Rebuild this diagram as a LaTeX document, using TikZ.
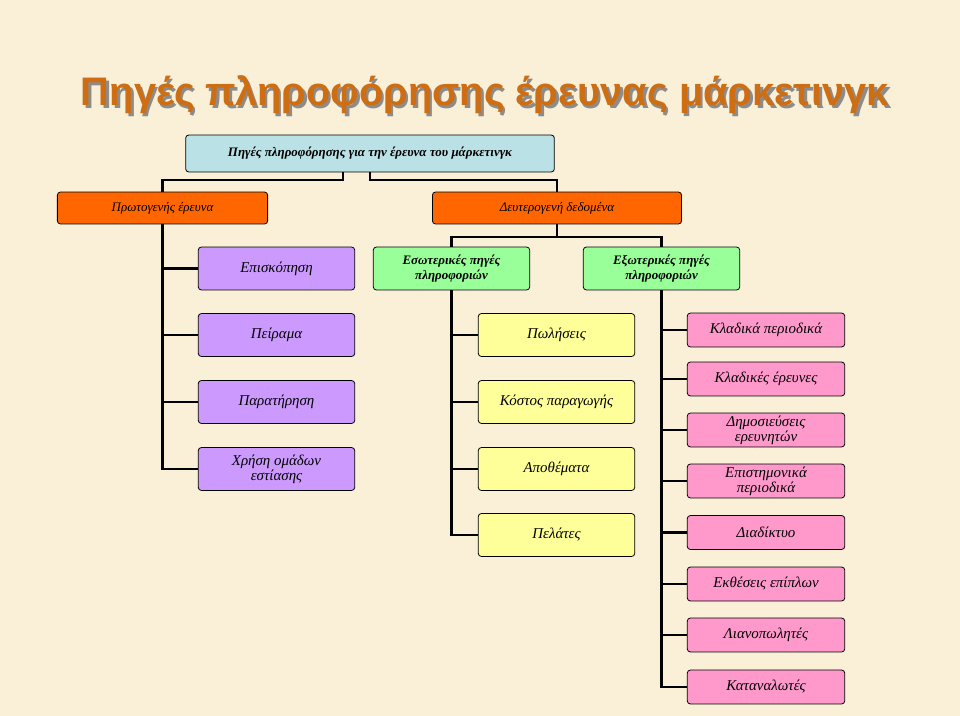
\documentclass[tikz,border=0pt]{standalone}
\usepackage{fontspec}
\setmainfont{Liberation Serif}
\newfontfamily\titlefont{Liberation Sans}
\definecolor{bgcream}{RGB}{250,240,215}
\definecolor{topblue}{RGB}{185,225,230}
\definecolor{orangebox}{RGB}{255,102,0}
\definecolor{purplebox}{RGB}{204,153,255}
\definecolor{greenbox}{RGB}{153,255,153}
\definecolor{yellowbox}{RGB}{255,255,153}
\definecolor{pinkbox}{RGB}{255,153,204}
\definecolor{titlebrown}{RGB}{205,110,20}
\tikzset{
  box/.style={draw,thick,rounded corners=3pt,align=center,inner sep=1pt,
    font=\itshape\fontsize{15}{15}\selectfont},
  smallbox/.style={box,font=\itshape\fontsize{13}{13}\selectfont},
  link/.style={line width=2.2pt}
}
\begin{document}
\begin{tikzpicture}[x=1bp,y=-1bp]
        \fill[bgcream] (0,0) rectangle (960,716);
        \useasboundingbox (0,0) rectangle (960,716);

        \node[text=black!45,font=\titlefont\bfseries\fontsize{40}{40}\selectfont] at (487.5,97.5) {Πηγές πληροφόρησης έρευνας μάρκετινγκ};
        \node[text=titlebrown,font=\titlefont\bfseries\fontsize{40}{40}\selectfont] (title) at (485,95) {Πηγές πληροφόρησης έρευνας μάρκετινγκ};

        \node[smallbox,fill=topblue,minimum width=370,minimum height=37,font=\bfseries\itshape\fontsize{13}{13}\selectfont] (top) at (370,153.5) {Πηγές πληροφόρησης για την έρευνα του μάρκετινγκ};
        \node[smallbox,fill=orangebox,minimum width=211,minimum height=32] (prim) at (162.5,208) {Πρωτογενής έρευνα};
        \node[smallbox,fill=orangebox,minimum width=250,minimum height=32] (sec) at (557,208) {Δευτερογενή δεδομένα};

        \node[box,fill=purplebox,minimum width=157,minimum height=43] (survey) at (276.5,268.5) {Επισκόπηση};
        \node[box,fill=purplebox,minimum width=157,minimum height=43] (experiment) at (276.5,335) {Πείραμα};
        \node[box,fill=purplebox,minimum width=157,minimum height=43] (observe) at (276.5,402) {Παρατήρηση};
        \node[box,fill=purplebox,minimum width=157,minimum height=43] (focus) at (276.5,469) {Χρήση ομάδων\\εστίασης};

        \node[smallbox,fill=greenbox,minimum width=157,minimum height=43,font=\bfseries\itshape\fontsize{13}{15}\selectfont] (internal) at (451.5,268.5) {Εσωτερικές πηγές\\πληροφοριών};
        \node[smallbox,fill=greenbox,minimum width=157,minimum height=43,font=\bfseries\itshape\fontsize{13}{15}\selectfont] (external) at (661.5,268.5) {Εξωτερικές πηγές\\πληροφοριών};

        \node[box,fill=yellowbox,minimum width=157,minimum height=43] (sales) at (556.5,335) {Πωλήσεις};
        \node[box,fill=yellowbox,minimum width=157,minimum height=43] (cost) at (556.5,402) {Κόστος παραγωγής};
        \node[box,fill=yellowbox,minimum width=157,minimum height=43] (stock) at (556.5,469) {Αποθέματα};
        \node[box,fill=yellowbox,minimum width=157,minimum height=43] (clients) at (556.5,535) {Πελάτες};

        \node[box,fill=pinkbox,minimum width=158,minimum height=34] (journals) at (766,330) {Κλαδικά περιοδικά};
        \node[box,fill=pinkbox,minimum width=158,minimum height=34] (studies) at (766,379) {Κλαδικές έρευνες};
        \node[box,fill=pinkbox,minimum width=158,minimum height=34] (papers) at (766,430) {Δημοσιεύσεις\\ερευνητών};
        \node[box,fill=pinkbox,minimum width=158,minimum height=34] (science) at (766,481) {Επιστημονικά\\περιοδικά};
        \node[box,fill=pinkbox,minimum width=158,minimum height=34] (web) at (766,532.5) {Διαδίκτυο};
        \node[box,fill=pinkbox,minimum width=158,minimum height=34] (fairs) at (766,584) {Εκθέσεις επίπλων};
        \node[box,fill=pinkbox,minimum width=158,minimum height=34] (retail) at (766,635) {Λιανοπωλητές};
        \node[box,fill=pinkbox,minimum width=158,minimum height=34] (buyers) at (766,687) {Καταναλωτές};

        % top level
        \draw[link] (top.south -| 343,0) |- (162.5,180) -- (prim.north);
        \draw[link] (top.south -| 370,0) |- (557,180) -- (sec.north);
        \draw[link] (sec.south) -- (557,237) -| (internal.north);
        \draw[link] (557,237) -| (external.north);

        % primary branch
        \draw[link] (prim.south) |- (focus.west);
        \foreach \n in {survey,experiment,observe}
            \draw[link] (162.5,0 |- \n.west) -- (\n.west);

        % internal branch
        \draw[link] (internal.south) |- (clients.west);
        \foreach \n in {sales,cost,stock}
            \draw[link] (451.5,0 |- \n.west) -- (\n.west);

        % external branch
        \draw[link] (external.south) |- (buyers.west);
        \foreach \n in {journals,studies,papers,science,web,fairs,retail}
            \draw[link] (661.5,0 |- \n.west) -- (\n.west);
\end{tikzpicture}
\end{document}
